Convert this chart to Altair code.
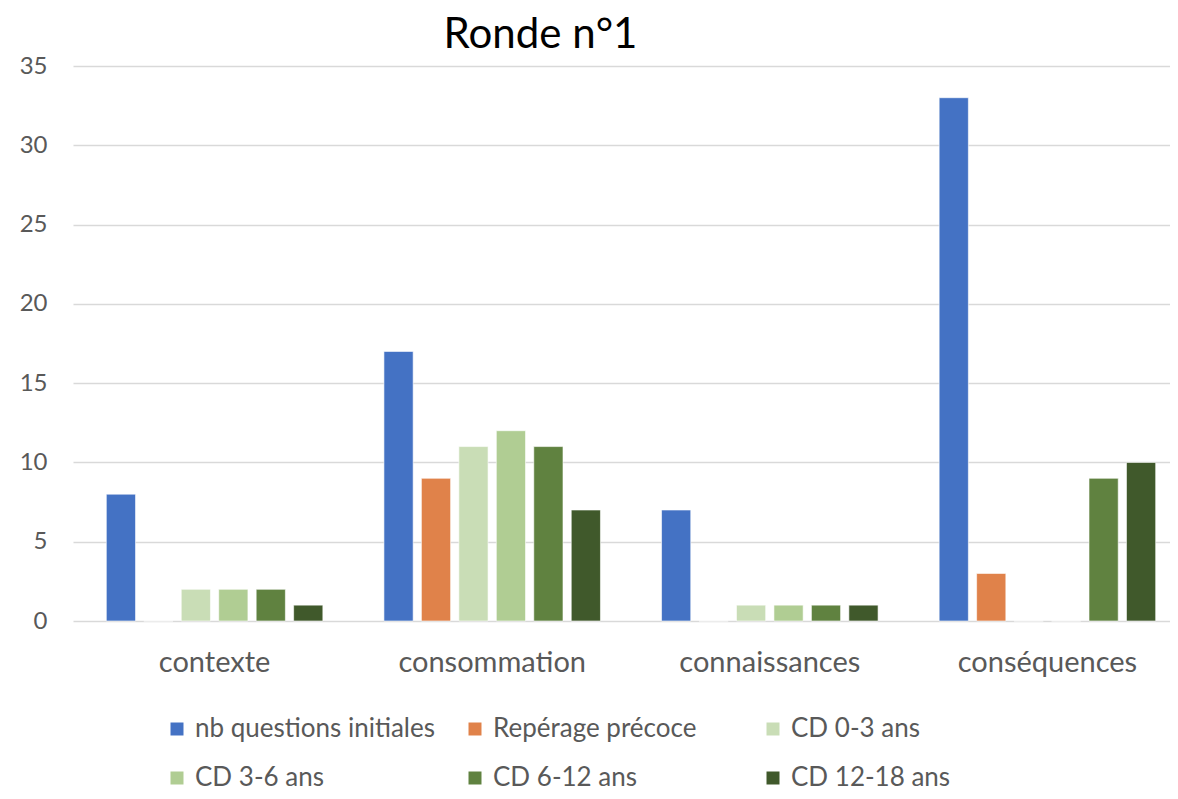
import altair as alt
import pandas as pd

categories = ["contexte", "consommation", "connaissances", "conséquences"]
series = ["nb questions initiales", "Repérage précoce", "CD 0-3 ans",
          "CD 3-6 ans", "CD 6-12 ans", "CD 12-18 ans"]
colors = ["#4472C4", "#E0824A", "#C9DDB6", "#B0CD93", "#608240", "#40592B"]

nb_questions = [8, 17, 7, 33]
reperage = [0, 9, 0, 3]
cd_0_3 = [2, 11, 1, 0]
cd_3_6 = [2, 12, 1, 0]
cd_6_12 = [2, 11, 1, 9]
cd_12_18 = [1, 7, 1, 10]

values = [nb_questions, reperage, cd_0_3, cd_3_6, cd_6_12, cd_12_18]
rows = []
for s, vals in zip(series, values):
    for c, v in zip(categories, vals):
        rows.append({"cat": c, "serie": s, "val": v})
df = pd.DataFrame(rows)

FONT = "Lato"

chart = alt.Chart(df).mark_bar(stroke="white", strokeWidth=1, strokeOpacity=0.6).encode(
    x=alt.X("cat:N", sort=categories, title=None,
            scale=alt.Scale(range=[0, 1116], paddingInner=0.22, paddingOuter=0.12),
            axis=alt.Axis(labelAngle=0, labelFontSize=29, labelColor="#595959",
                          labelFont=FONT, labelPadding=27, ticks=False,
                          labelLimit=400, domain=False, grid=False)),
    xOffset=alt.XOffset("serie:N", sort=series,
                        scale=alt.Scale(paddingInner=0.22, paddingOuter=0.0)),
    y=alt.Y("val:Q", title=None,
            scale=alt.Scale(domain=[0, 35], nice=False),
            axis=alt.Axis(values=[0, 5, 10, 15, 20, 25, 30, 35], labelFontSize=24,
                          labelColor="#595959", labelFont=FONT, labelPadding=26,
                          ticks=False, domain=False, gridColor="#D9D9D9",
                          gridWidth=1.5)),
    color=alt.Color("serie:N", sort=series,
                    scale=alt.Scale(domain=series, range=colors),
                    legend=alt.Legend(title=None, orient="none", legendX=91,
                                      legendY=650, columns=3, direction="horizontal",
                                      symbolType="square", symbolSize=169,
                                      symbolStrokeWidth=0, symbolOffset=0,
                                      labelFontSize=26, labelFont=FONT,
                                      labelColor="#595959", labelLimit=400,
                                      gridAlign="all", columnPadding=27,
                                      rowPadding=23, labelOffset=5)),
).properties(
    width=1097,
    height=555,
    title=alt.TitleParams("Ronde n°1", fontSize=42, font=FONT, fontWeight="normal",
                          color="#000000", anchor="middle", dx=-81, dy=3, offset=0),
    autosize=alt.AutoSizeParams(type="none"),
    padding={"left": 65, "top": 58, "right": 0, "bottom": 170},
).configure_view(stroke=None)

chart.save("out.html", embed_options={"renderer": "svg", "actions": False})
